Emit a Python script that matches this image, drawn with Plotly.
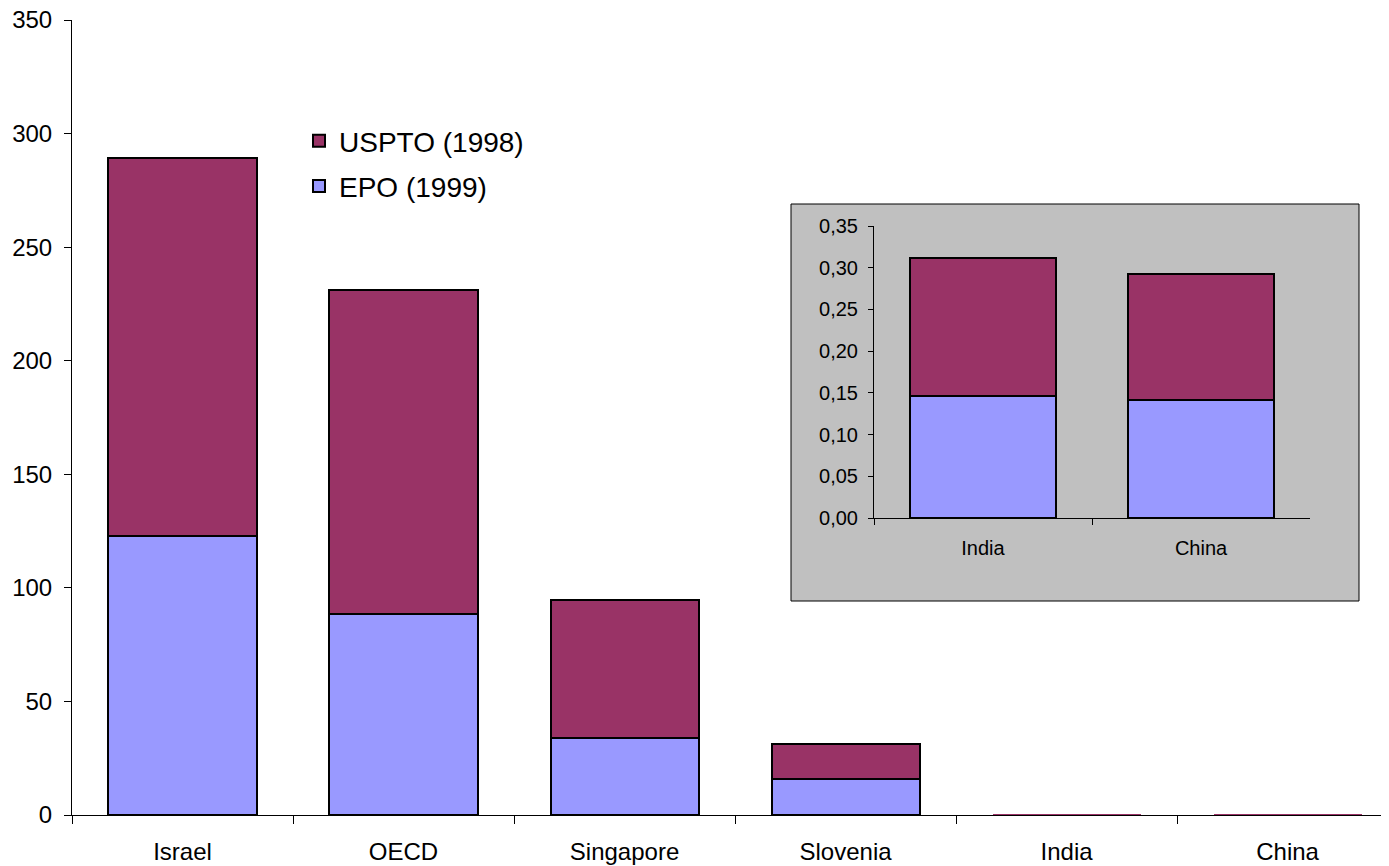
import plotly.graph_objects as go

categories = ["Israel", "OECD", "Singapore", "Slovenia", "India", "China"]
epo_1999 = [122.8, 88.5, 33.9, 16.0, 0.146, 0.141]
uspto_1998 = [166.4, 142.6, 60.8, 15.3, 0.166, 0.152]

inset_categories = ["India", "China"]
inset_epo = [0.146, 0.141]
inset_uspto = [0.166, 0.152]

main_ticks = [0, 50, 100, 150, 200, 250, 300, 350]
inset_ticks = [0, 0.05, 0.10, 0.15, 0.20, 0.25, 0.30, 0.35]

C_EPO = "#9999FF"
C_USPTO = "#993366"
W, H = 1389, 866
OFF = 8  # page body margin


def px_x(v):
    return (v - OFF) / W


def px_y(v):
    return (H - (v - OFF)) / H


# outline hidden for bars too small to see in the main panel
main_line_w = [2, 2, 2, 2, 0, 0]

fig = go.Figure()
fig.add_trace(go.Bar(x=categories, y=epo_1999, name="EPO (1999)", legendgroup="epo", legendrank=2,
                     marker=dict(color=C_EPO, line=dict(color="black", width=main_line_w)),
                     width=0.67, xaxis="x", yaxis="y"))
fig.add_trace(go.Bar(x=categories, y=uspto_1998, name="USPTO (1998)", legendgroup="uspto", legendrank=1,
                     marker=dict(color=C_USPTO, line=dict(color="black", width=main_line_w)),
                     width=0.67, xaxis="x", yaxis="y"))
fig.add_trace(go.Bar(x=inset_categories, y=inset_epo, name="EPO (1999)", showlegend=False,
                     marker=dict(color=C_EPO, line=dict(color="black", width=2)),
                     width=0.67, xaxis="x2", yaxis="y2"))
fig.add_trace(go.Bar(x=inset_categories, y=inset_uspto, name="USPTO (1998)", showlegend=False,
                     marker=dict(color=C_USPTO, line=dict(color="black", width=2)),
                     width=0.67, xaxis="x2", yaxis="y2"))

fig.update_layout(
    width=W, height=H,
    barmode="stack",
    separators=",.",
    paper_bgcolor="white",
    plot_bgcolor="rgba(0,0,0,0)",
    margin=dict(l=0, r=0, t=0, b=0),
    font=dict(family="Liberation Sans, Arial, sans-serif", color="black", size=24),
    showlegend=True,
    legend=dict(x=px_x(299), y=px_y(116), xanchor="left", yanchor="top", traceorder="grouped",
                font=dict(size=28), bgcolor="rgba(0,0,0,0)", itemwidth=30, tracegroupgap=6),
    xaxis=dict(domain=[px_x(72), 1], range=[-0.5, 5.495], showline=True, linecolor="black", linewidth=1,
               ticks="outside", ticklen=8, tickcolor="black", tickson="boundaries", showgrid=False,
               tickfont=dict(size=24), ticklabelstandoff=15, ticklabeloverflow="allow",
               automargin=False, fixedrange=True),
    yaxis=dict(domain=[px_y(815), px_y(20)], range=[0, 350], tickvals=main_ticks, showline=True,
               linecolor="black", linewidth=1, ticks="outside", ticklen=7, tickcolor="black",
               showgrid=False, zeroline=False, tickfont=dict(size=24), ticklabelstandoff=7,
               ticklabeloverflow="allow", automargin=False, fixedrange=True),
    xaxis2=dict(domain=[px_x(874), px_x(1310)], anchor="y2", range=[-0.5, 1.5], showline=True,
                linecolor="black", linewidth=1, ticks="outside", ticklen=6, tickcolor="black",
                tickson="boundaries", showgrid=False, tickfont=dict(size=20), ticklabelstandoff=12,
                automargin=False, fixedrange=True),
    yaxis2=dict(domain=[px_y(518), px_y(226)], anchor="x2", range=[0, 0.35], tickvals=inset_ticks,
                tickformat=".2f", showline=True, linecolor="black", linewidth=1, ticks="outside",
                ticklen=5, tickcolor="black", showgrid=False, zeroline=False, tickfont=dict(size=20),
                ticklabelstandoff=6, automargin=False, fixedrange=True),
    shapes=[dict(type="rect", xref="paper", yref="paper", x0=px_x(791), x1=px_x(1359),
                 y0=px_y(601), y1=px_y(204), fillcolor="#C0C0C0",
                 line=dict(color="black", width=1), layer="below")],
)

fig.write_html("out.html")
